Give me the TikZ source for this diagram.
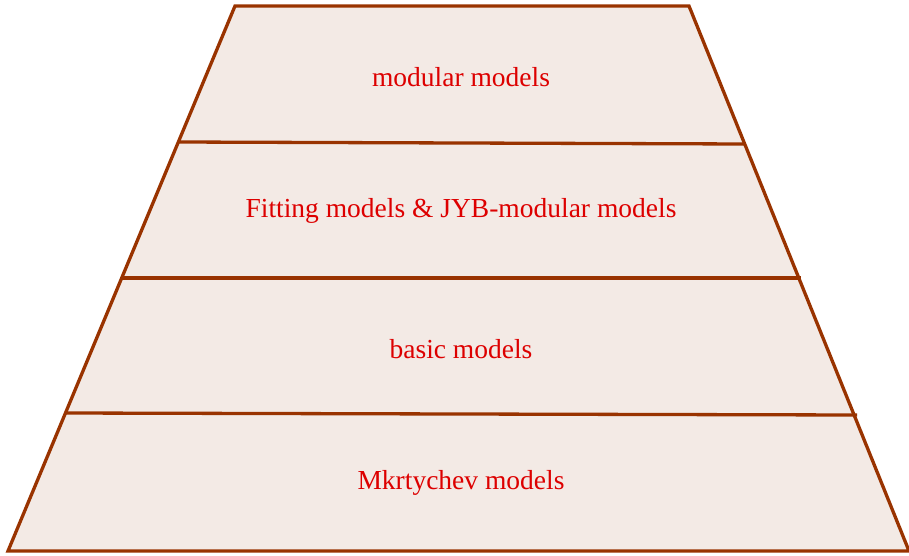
\documentclass[tikz,border=0pt]{standalone}
\usepackage{fontspec}
\setmainfont{Liberation Serif}
\definecolor{edge}{HTML}{993300}
\definecolor{band}{HTML}{F3EAE5}
\definecolor{label}{HTML}{DD0000}
\tikzset{
  layer/.style={draw=edge, line width=3.3pt, line join=miter},
  tier/.style={text=label, font=\fontsize{27.5}{30}\selectfont, inner sep=0pt}
}
\begin{document}
\begin{tikzpicture}[x=1pt, y=-1pt]
  \useasboundingbox (0,0) rectangle (909,556);
  % outer trapezoid corners
  \coordinate (tl) at (235,6);
  \coordinate (tr) at (689,6);
  \coordinate (bl) at (8,551);
  \coordinate (br) at (909,551);
  % dividing lines between the tiers
  \coordinate (l1) at (178,142);  \coordinate (r1) at (745,144);
  \coordinate (l2) at (121,278);  \coordinate (r2) at (801,278);
  \coordinate (l3) at (65,413);   \coordinate (r3) at (857,415);
  \fill[band] (tl) -- (tr) -- (br) -- (bl) -- cycle;
  \draw[layer] (l1) -- (r1);
  \draw[layer] (l2) -- (r2);
  \draw[layer] (l3) -- (r3);
  \draw[layer] (tl) -- (tr) -- (br) -- (bl) -- cycle;
  % tier labels
  \node[tier] (t1) at (461,77) {modular models};
  \node[tier] (t2) at (461,211) {Fitting models \& JYB-modular models};
  \node[tier] (t3) at (461,349) {basic models};
  \node[tier] (t4) at (461,483) {Mkrtychev models};
\end{tikzpicture}
\end{document}
